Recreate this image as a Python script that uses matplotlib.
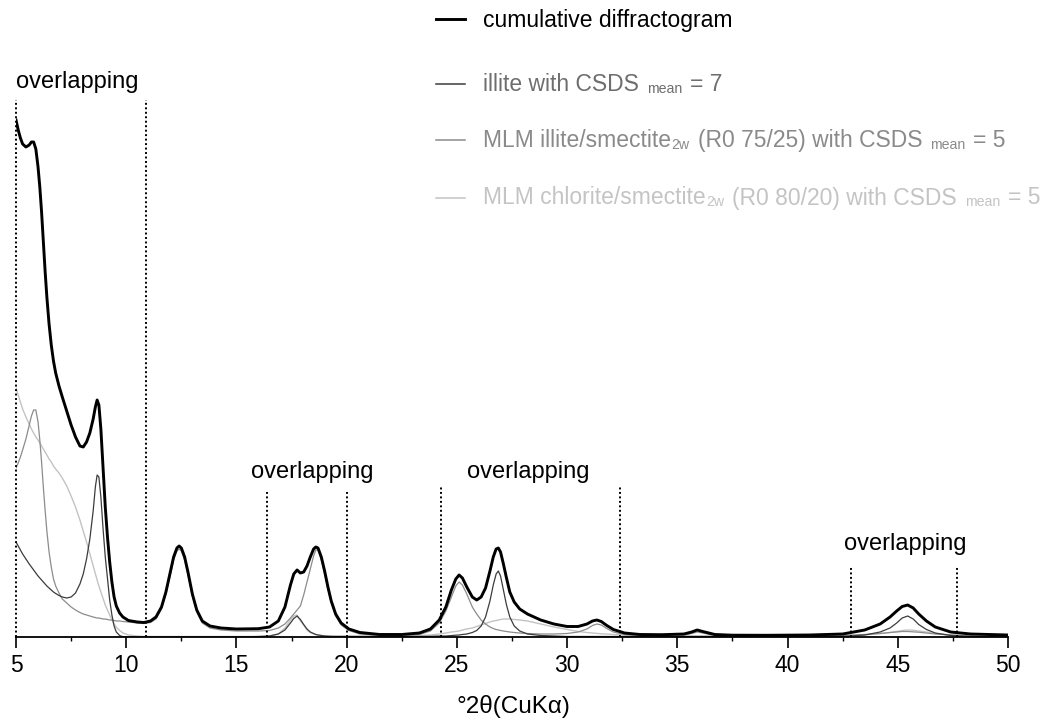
import matplotlib
matplotlib.use("Agg")
import matplotlib.pyplot as plt
from matplotlib.lines import Line2D

plt.rcParams['font.family'] = ['Liberation Sans', 'DejaVu Sans']

# 2theta grid (CuKa)
two_theta = [
    5.0, 5.1, 5.2, 5.3, 5.45, 5.6, 5.7, 5.8, 5.9, 6.0,
    6.08, 6.16, 6.24, 6.32, 6.4, 6.5, 6.6, 6.7, 6.8, 6.95,
    7.1, 7.3, 7.5, 7.7, 7.9, 8.05, 8.2, 8.35, 8.5, 8.6,
    8.68, 8.76, 8.85, 8.95, 9.05, 9.15, 9.25, 9.35, 9.45, 9.55,
    9.7, 9.85, 10.1, 10.5, 10.8, 11.1, 11.35, 11.6, 11.8, 12.0,
    12.15, 12.3, 12.4, 12.5, 12.65, 12.8, 13.0, 13.2, 13.45, 13.8,
    14.3, 15.0, 16.0, 16.5, 16.9, 17.2, 17.45, 17.6, 17.75, 17.9,
    18.05, 18.2, 18.35, 18.5, 18.6, 18.7, 18.85, 19.0, 19.15, 19.3,
    19.5, 19.75, 20.1, 20.6, 21.5, 22.5, 23.3, 23.8, 24.2, 24.5,
    24.75, 24.95, 25.1, 25.25, 25.45, 25.7, 25.9, 26.1, 26.3, 26.5,
    26.65, 26.78, 26.88, 26.98, 27.1, 27.25, 27.4, 27.6, 27.85, 28.2,
    28.8, 29.4, 30.0, 30.5, 30.9, 31.15, 31.35, 31.55, 31.8, 32.1,
    32.6, 33.3, 34.3, 35.3, 35.65, 35.9, 36.15, 36.7, 37.5, 39.0,
    41.0, 42.5, 43.5, 44.2, 44.65, 44.95, 45.2, 45.45, 45.7, 45.95,
    46.3, 46.7, 47.4, 48.3, 50.0,
]

cumulative = [
    517, 507, 499, 493, 490, 492, 495, 495, 488, 470,
    450, 425, 395, 366, 340, 313, 292, 276, 264, 251,
    240, 226, 212, 200, 191, 190, 195, 204, 218, 230,
    237, 232, 208, 168, 130, 100, 75, 55, 40, 31,
    24, 20, 16.5, 15, 14.5, 16, 20, 30, 45, 65,
    80, 89, 91, 89, 80, 65, 43, 27, 16, 11,
    9, 8, 8.3, 10, 16, 30, 52, 63, 67, 64,
    65, 71, 80, 88, 90, 89, 80, 66, 50, 36,
    23, 14, 8, 4.5, 2.5, 2.5, 4, 8, 17, 30,
    47, 58, 62, 59, 50, 40, 37, 40, 49, 66,
    80, 88, 89, 85, 74, 59, 45, 35, 28, 23,
    17, 13, 10.5, 10.5, 13, 16, 17, 15.5, 11.5, 7.5,
    4, 2.5, 2.3, 3, 5, 7, 5.5, 2.5, 1.8, 1.7,
    2, 3, 7, 13, 20, 26, 30.5, 32, 29, 23,
    16, 10, 5, 3, 2,
]

illite = [
    95, 91, 87, 83, 78, 73, 70, 67, 64, 61,
    59, 57, 55, 53, 51, 49, 47, 45, 43.5, 41.5,
    40, 39, 40, 44, 53, 63, 78, 98, 126, 150,
    162, 160, 140, 108, 80, 58, 37, 22, 11, 5,
    1.5, 0.3, 0, 0, 0, 0, 0, 0, 0, 0,
    0, 0, 0, 0, 0, 0, 0, 0, 0, 0,
    0, 0, 0.5, 1, 3, 7, 14, 18.5, 21, 17.5,
    12.5, 8, 5, 3.5, 2.5, 2, 1.5, 1, 0.8, 0.6,
    0.5, 0.5, 0.5, 0.5, 0.5, 0.5, 0.5, 0.7, 1, 1,
    1.5, 1.8, 2, 2.5, 3, 4.5, 6.5, 11, 20, 36,
    52, 63, 66, 61, 48, 32, 20, 11, 6, 3,
    1.5, 1, 0.5, 0.5, 0.5, 0.5, 0.5, 0.5, 0.5, 0.5,
    0.5, 0.5, 0.5, 0.5, 0.5, 0.5, 0.5, 0.5, 0.5, 0.5,
    0.5, 0.5, 2, 5, 9, 14, 19, 21, 18, 12.5,
    7.5, 4, 1.5, 0.5, 0,
]

illite_smectite = [
    169, 174, 180, 187, 198, 212, 221, 227, 227, 215,
    197, 175, 150, 127, 106, 85, 70, 58, 51, 44,
    38, 34, 30, 27, 24.5, 23, 22, 21, 20, 19.5,
    19, 19, 18.5, 18, 18, 17.5, 17, 17, 16.5, 16,
    16, 15.5, 15, 14, 13.5, 14.5, 18, 28, 43, 62,
    77, 86, 88, 86, 77, 62, 41, 25, 14, 9,
    7, 6, 6, 6.5, 9, 13, 19, 23, 27, 31,
    42, 55, 68, 81, 87, 87, 77, 63, 48, 34,
    21, 12, 6.5, 3, 1.5, 1.5, 2.5, 6, 14, 26,
    40, 51, 55, 52, 43, 30, 23, 17, 13, 10,
    8.5, 7.5, 7, 6.5, 6, 5.5, 5, 4.5, 4, 3.5,
    3, 3, 3.5, 5, 8, 11.5, 13, 12, 8.5, 5,
    2.5, 1.5, 1.5, 2, 3.5, 5, 4, 1.5, 1, 1,
    1, 1.5, 2.5, 3.5, 4.5, 5, 5.5, 5.5, 5.2, 4.8,
    4, 3, 2, 1, 0.5,
]

chlorite_smectite = [
    249, 242, 235, 228, 220, 213, 208, 204, 200, 197,
    194, 191, 188, 185, 182, 178, 175, 171, 168, 164,
    159, 151, 141, 130, 117, 106, 95, 83, 71, 63,
    57, 51, 45, 38, 32, 27, 22, 17, 13, 10,
    6.5, 4, 2, 1, 0.5, 0.5, 0.5, 0.5, 0.5, 0.5,
    0.5, 0.5, 0.5, 0.5, 0.5, 0.5, 0.5, 0.5, 0.5, 0.5,
    0.5, 0.5, 0.5, 1, 3, 9, 17, 21, 22, 16,
    12, 7, 4.5, 3, 2.5, 2, 1.5, 1.2, 1, 1,
    1, 1, 1, 0.8, 0.8, 1, 1.5, 2, 3, 4,
    5, 5.5, 6, 7, 8, 9, 10.5, 12, 13.5, 15,
    16, 16.5, 17, 17.5, 18, 18, 18, 17.5, 17, 16,
    13, 10, 7.5, 5.5, 4.5, 4, 3.5, 3.2, 3, 2.5,
    2, 1.5, 1, 1, 1, 1, 1, 1, 1, 1,
    1, 1, 2, 3.5, 4.5, 5.5, 6.5, 7, 6.8, 6,
    5, 3.5, 2, 1, 0.5,
]

# "overlapping" zones
zone_start = [5.0, 16.4, 24.3, 42.9]
zone_end = [10.9, 20.0, 32.4, 47.7]
zone_line_top = [537, 145, 150, 70]
zone_label_x = [7.8, 18.43, 28.23, 45.35]
zone_label_y = [555, 165, 165, 93]

x_ticks = [5, 10, 15, 20, 25, 30, 35, 40, 45, 50]

C_ILL = '#3c3c3c'
C_IS = '#8c8c8c'
C_CS = '#c3c3c3'

W, H = 1051, 724
fig = plt.figure(figsize=(W / 100, H / 100), dpi=100)
ax = fig.add_axes([16 / W, 87 / H, 992 / W, 632 / H])

ax.plot(two_theta, chlorite_smectite, color=C_CS, lw=1.0)
ax.plot(two_theta, illite_smectite, color=C_IS, lw=0.9)
ax.plot(two_theta, illite, color=C_ILL, lw=0.9)
ax.plot(two_theta, cumulative, color='black', lw=2.1, solid_joinstyle='round')

for x0, x1, top, lx, ly in zip(zone_start, zone_end, zone_line_top, zone_label_x, zone_label_y):
    ax.vlines([x0, x1], 0, top, colors='black', lw=1.4,
              linestyles=[(0, (1, 1.3))], clip_on=False)
    ax.text(lx, ly, 'overlapping', ha='center', va='center', fontsize=17)

ax.set_xlim(5, 50)
ax.set_ylim(0, 632)
for s in ['left', 'right', 'top']:
    ax.spines[s].set_visible(False)
ax.spines['bottom'].set_linewidth(1.3)
ax.set_yticks([])
ax.set_xticks(x_ticks)
ax.set_xticks([x + 2.5 for x in x_ticks[:-1]], minor=True)
ax.tick_params(axis='x', which='major', length=8, width=1.2, pad=4.5, labelsize=16.5)
ax.tick_params(axis='x', which='minor', length=3, width=1.0)

fig.text(513 / W, 1 - 706 / H, '°2θ(CuKα)', ha='center', va='center', fontsize=17.5)


# legend drawn by hand: sample line + text pieces with small "subscripts"
def legend_entry(y_line, y_base, line_color, lw, text_color, parts):
    fig.add_artist(Line2D([436 / W, 465 / W], [1 - y_line / H] * 2,
                          color=line_color, lw=lw, transform=fig.transFigure))
    base = ax.annotate(parts[0][0], xy=(483 / W, 1 - y_base / H), xycoords='figure fraction',
                       ha='left', va='baseline', fontsize=parts[0][1], color=text_color,
                       annotation_clip=False)
    prev = base
    for txt, fs, gap in parts[1:]:
        prev = ax.annotate(txt, xy=(1, 0), xycoords=(prev, base),
                           xytext=(gap, 0), textcoords='offset points',
                           ha='left', va='bottom', fontsize=fs, color=text_color,
                           annotation_clip=False)


BIG, SMALL, SP = 16.5, 10.2, 5.6
legend_entry(18.5, 26.7, 'black', 2.1, 'black', [('cumulative diffractogram', BIG)])
legend_entry(83.5, 90.7, C_ILL, 1.1, '#6e6e6e',
             [('illite with CSDS', BIG), ('mean', SMALL, SP), ('= 7', BIG, SP)])
legend_entry(139.5, 147.3, C_IS, 1.1, '#8a8a8a',
             [('MLM illite/smectite', BIG), ('2w', SMALL, 0.5),
              ('(R0 75/25) with CSDS', BIG, SP), ('mean', SMALL, SP), ('= 5', BIG, SP)])
legend_entry(198, 204.5, C_CS, 1.1, '#c4c4c4',
             [('MLM chlorite/smectite', BIG), ('2w', SMALL, 0.5),
              ('(R0 80/20) with CSDS', BIG, SP), ('mean', SMALL, SP), ('= 5', BIG, SP)])

fig.savefig('out.png', dpi=100)
